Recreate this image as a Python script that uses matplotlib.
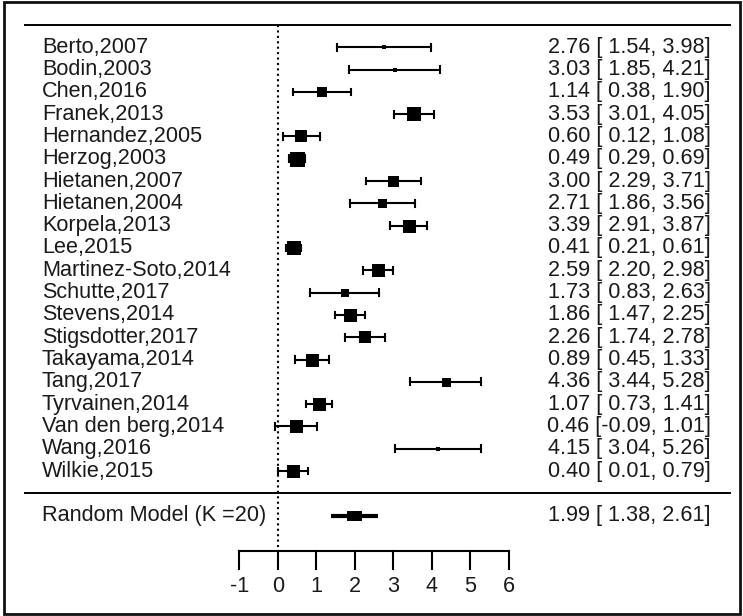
import matplotlib
matplotlib.use("Agg")
import matplotlib.pyplot as plt
from matplotlib.patches import Rectangle

studies = ["Berto,2007", "Bodin,2003", "Chen,2016", "Franek,2013", "Hernandez,2005",
           "Herzog,2003", "Hietanen,2007", "Hietanen,2004", "Korpela,2013", "Lee,2015",
           "Martinez-Soto,2014", "Schutte,2017", "Stevens,2014", "Stigsdotter,2017",
           "Takayama,2014", "Tang,2017", "Tyrvainen,2014", "Van den berg,2014",
           "Wang,2016", "Wilkie,2015"]
est = [2.76, 3.03, 1.14, 3.53, 0.60, 0.49, 3.00, 2.71, 3.39, 0.41,
       2.59, 1.73, 1.86, 2.26, 0.89, 4.36, 1.07, 0.46, 4.15, 0.40]
lower = [1.54, 1.85, 0.38, 3.01, 0.12, 0.29, 2.29, 1.86, 2.91, 0.21,
         2.20, 0.83, 1.47, 1.74, 0.45, 3.44, 0.73, -0.09, 3.04, 0.01]
upper = [3.98, 4.21, 1.90, 4.05, 1.08, 0.69, 3.71, 3.56, 3.87, 0.61,
         2.98, 2.63, 2.25, 2.78, 1.33, 5.28, 1.41, 1.01, 5.26, 0.79]
weight = [5, 5, 10, 14, 12, 15, 11, 9, 13, 14, 13, 8, 13, 12, 13, 9, 13, 13, 5, 13]
summary_label = "Random Model (K =20)"
summary = (1.99, 1.38, 2.61)
xticks = [-1, 0, 1, 2, 3, 4, 5, 6]

W, H = 743, 616
DPI = 100
fig = plt.figure(figsize=(W / DPI, H / DPI), dpi=DPI)
plt.rcParams['font.family'] = ['Liberation Sans', 'DejaVu Sans']

# pixel mapping: x_px = 278 + 38.5*val ; y_px = 471 - 22.3*(row-1)
x0, sx = 278.0, 38.5
y1, sy = 471.0, 22.3
xmin = (0 - x0) / sx
xmax = (W - x0) / sx
ytop = 1 + (y1 - 0) / sy
ybot = 1 + (y1 - H) / sy

ax = fig.add_axes([0, 0, 1, 1])
ax.set_xlim(xmin, xmax)
ax.set_ylim(ybot, ytop)
ax.axis("off")

def px2x(px):
    return (px - x0) / sx

def py2r(py):
    return 1 + (y1 - py) / sy

k = len(studies)
rows = list(range(k, 0, -1))
tc = "#1a1a1a"
fs = 15.6

# outer frame
fig.patches.append(Rectangle((4 / W, 2 / H), (W - 7) / W, (H - 4) / H, transform=fig.transFigure,
                             fill=False, edgecolor="#111111", linewidth=2.0))

# horizontal lines
ax.plot([px2x(25), px2x(730)], [k + 1, k + 1], color="black", lw=1.4)
ax.plot([px2x(25), px2x(730)], [0, 0], color="black", lw=1.4)

# reference line
ax_y = py2r(551)
ax.plot([0, 0], [k + 1, ax_y], color="black", lw=1.5, linestyle=(0, (1, 1.6)))

cap = 0.15
for r, e, lo, hi, w, name in zip(rows, est, lower, upper, weight, studies):
    ax.plot([lo, hi], [r, r], color="black", lw=1.5)
    ax.plot([lo, lo], [r - cap, r + cap], color="black", lw=1.5)
    ax.plot([hi, hi], [r - cap, r + cap], color="black", lw=1.5)
    ax.plot([e], [r], marker="s", color="black", markersize=w * 0.72, markeredgewidth=0)
    ax.text(px2x(42), r, name, ha="left", va="center", fontsize=fs, color=tc)
    ax.text(px2x(711), r, f"{e:.2f} [{lo:5.2f}, {hi:.2f}]", ha="right", va="center",
            fontsize=fs, color=tc)

# summary estimate: thick interval with central block
m, lo, hi = summary
ax.plot([lo, hi], [-1, -1], color="black", lw=3.0, solid_capstyle="butt")
bw = 15 / sx
bh = 10 / sy
ax.add_patch(Rectangle((m - bw / 2, -1 - bh / 2), bw, bh, facecolor="black", edgecolor="none"))
ax.text(px2x(42), -1, summary_label, ha="left", va="center", fontsize=fs, color=tc)
ax.text(px2x(711), -1, f"{m:.2f} [{lo:5.2f}, {hi:.2f}]", ha="right", va="center",
        fontsize=fs, color=tc)

# x axis
ax.plot([xticks[0], xticks[-1]], [ax_y, ax_y], color="black", lw=1.5)
tick_bot = py2r(569)
for t in xticks:
    ax.plot([t, t], [ax_y, tick_bot], color="black", lw=1.5)
    ax.text(t, py2r(586), f"{t}", ha="center", va="center", fontsize=fs, color=tc)

fig.savefig("out.png", dpi=DPI)
